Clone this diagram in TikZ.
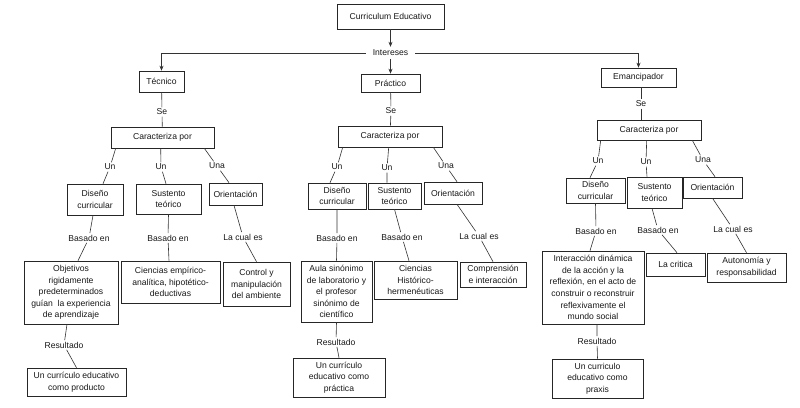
\documentclass[tikz,border=0pt]{standalone}
\usepackage{fontspec}
\setmainfont{Liberation Sans}
\usetikzlibrary{arrows.meta,calc}
\begin{document}
\begin{tikzpicture}[x=1pt,y=-1pt,
  box/.style={draw=black!85, line width=0.6pt, fill=white, align=center, inner sep=1pt,
    font=\fontsize{8.6}{11.6}\selectfont, text=black!90},
  lbl/.style={fill=white, inner sep=1.5pt, font=\fontsize{8.6}{11.6}\selectfont, text=black!90},
  conn/.style={draw=black!80, line width=0.6pt},
  arr/.style={conn, -{Stealth[length=5pt,width=4pt]}}]
\useasboundingbox[fill=white] (0,0) rectangle (800,407);

% top level
\node[box, minimum width=107pt, minimum height=25pt] (ce) at (390.5,16.5) {Curriculum Educativo};
\node[lbl, inner xsep=7pt, inner ysep=3pt] (int) at (390.5,53) {Intereses};
\node[box, minimum width=45pt, minimum height=21pt] (tec) at (161.5,81.5) {Técnico};
\node[box, minimum width=59pt, minimum height=18pt] (pra) at (390.5,83) {Práctico};
\node[box, minimum width=75pt, minimum height=19pt] (ema) at (638.5,77.5) {Emancipador};

\draw[arr] (ce) -- (int);
\draw[arr] (int) -- (pra);
\draw[arr] (int.west) -| (tec.north);
\draw[arr] (int.east) -| (ema.north);

% caracteriza
\node[box, minimum width=103pt, minimum height=21pt] (car1) at (162.5,137.5) {Caracteriza por};
\node[box, minimum width=104pt, minimum height=21pt] (car2) at (390,136.5) {Caracteriza por};
\node[box, minimum width=104pt, minimum height=20pt] (car3) at (649,130) {Caracteriza por};

\node[lbl] (se1) at (162,112) {Se};
\node[lbl] (se2) at (391,111) {Se};
\node[lbl] (se3) at (641,104) {Se};
\draw[conn] (tec) -- (se1) -- (car1);
\draw[conn] (pra) -- (se2) -- (car2);
\draw[conn] ($(ema.south)+(2.5,0)$) -- (se3) -- (se3 |- car3.north);

% ---------- Tecnico branch ----------
\node[box, minimum width=56pt, minimum height=31pt] (d1) at (95,199.5) {Diseño\\curricular};
\node[box, minimum width=65pt, minimum height=30pt] (s1) at (168.5,199) {Sustento\\teórico};
\node[box, minimum width=53pt, minimum height=22pt] (o1) at (235.5,194) {Orientación};
\node[box, minimum width=94pt, minimum height=63pt] (obj) at (71,292.5) {Objetivos\\rigidamente\\predeterminados\\guían\ \ la experiencia\\de aprendizaje};
\node[box, minimum width=99pt, minimum height=42pt] (cie1) at (170.5,282) {Ciencias empírico-\\analítica, hipotético-\\deductivas};
\node[box, minimum width=67pt, minimum height=44pt] (ctl) at (256.5,284) {Control y\\manipulación\\del ambiente};
\node[box, minimum width=99pt, minimum height=28pt] (prod) at (76.5,382) {Un currículo educativo\\como producto};

\node[lbl] (un1) at (110,167) {Un};
\node[lbl] (un2) at (161,167) {Un};
\node[lbl] (una1) at (217,166) {Una};
\node[lbl] (bas1) at (89,238) {Basado en};
\node[lbl] (bas2) at (168,238) {Basado en};
\node[lbl] (lce1) at (243,237) {La cual es};
\node[lbl] (res1) at (64,345) {Resultado};

\draw[conn] ($(car1.south west)+(5,0)$) -- (un1) -- ($(d1.north)+(8,0)$);
\draw[conn] ($(car1.south west)+(50,0)$) -- (un2) -- ($(s1.north)+(-2.5,0)$);
\draw[conn] ($(car1.south east)+(-10,0)$) -- (una1) -- ($(o1.north)+(-6.5,0)$);
\draw[conn] ($(d1.south)+(-2,0)$) -- (bas1) -- ($(obj.north)+(7,0)$);
\draw[conn] (s1.south) -- (bas2) -- ($(cie1.north)+(-1.5,0)$);
\draw[conn] ($(o1.south)+(-1.5,0)$) -- (lce1) -- (ctl.north);
\draw[conn] ($(obj.south)+(-4,0)$) -- (res1) -- (prod.north);

% ---------- Practico branch ----------
\node[box, minimum width=58pt, minimum height=26pt] (d2) at (337,196) {Diseño\\curricular};
\node[box, minimum width=53pt, minimum height=26pt] (s2) at (394.5,196) {Sustento\\teórico};
\node[box, minimum width=58pt, minimum height=22pt] (o2) at (453,193) {Orientación};
\node[box, minimum width=71pt, minimum height=61pt] (aula) at (336.5,291.5) {Aula sinónimo\\de laboratorio y\\el profesor\\sinónimo de\\científico};
\node[box, minimum width=83pt, minimum height=38pt] (cie2) at (415.5,280) {Ciencias\\Histórico-\\hermenéuticas};
\node[box, minimum width=66pt, minimum height=25pt] (comp) at (493,274.5) {Comprensión\\e interacción};
\node[box, minimum width=92pt, minimum height=39pt] (prac) at (339,377.5) {Un currículo\\educativo como\\práctica};

\node[lbl] (un3) at (337,167) {Un};
\node[lbl] (un4) at (387,168) {Un};
\node[lbl] (una2) at (446,166) {Una};
\node[lbl] (bas3) at (337,238) {Basado en};
\node[lbl] (bas4) at (402,237) {Basado en};
\node[lbl] (lce2) at (479,236) {La cual es};
\node[lbl] (res2) at (336,342) {Resultado};

\draw[conn] ($(car2.south west)+(5,0)$) -- (un3) -- ($(d2.north)+(-7,0)$);
\draw[conn] ($(car2.south west)+(51,0)$) -- (un4) -- ($(s2.north)+(-7.5,0)$);
\draw[conn] ($(car2.south east)+(-9,0)$) -- (una2) -- ($(o2.north)+(4,0)$);
\draw[conn] (d2.south) -- (bas3) -- (aula.north);
\draw[conn] (s2.south) -- (bas4) -- ($(cie2.north)+(-6.5,0)$);
\draw[conn] ($(o2.south)+(4,0)$) -- (lce2) -- (comp.north);
\draw[conn] (aula.south) -- (res2) -- (prac.north);

% ---------- Emancipador branch ----------
\node[box, minimum width=59pt, minimum height=25pt] (d3) at (595.5,190.5) {Diseño\\curricular};
\node[box, minimum width=55pt, minimum height=31pt] (s3) at (654.5,192.5) {Sustento\\teórico};
\node[box, minimum width=59pt, minimum height=21pt] (o3) at (712.5,187.5) {Orientación};
\node[box, minimum width=102pt, minimum height=73pt] (intx) at (593,287.5) {Interacción dinámica\\de la acción y la\\reflexión, en el acto de\\construir o reconstruir\\reflexivamente el\\mundo social};
\node[box, minimum width=59pt, minimum height=23pt] (cri) at (675.5,264.5) {La critica};
\node[box, minimum width=79pt, minimum height=29pt] (aut) at (746.5,267.5) {Autonomía y\\responsabilidad};
\node[box, minimum width=91pt, minimum height=39pt] (prax) at (597.5,378.5) {Un curriculo\\educativo como\\praxis};

\node[lbl] (un5) at (598,161) {Un};
\node[lbl] (un6) at (646,162) {Un};
\node[lbl] (una3) at (703,160) {Una};
\node[lbl] (bas5) at (596,231) {Basado en};
\node[lbl] (bas6) at (658,230) {Basado en};
\node[lbl] (lce3) at (733,229) {La cual es};
\node[lbl] (res3) at (597,341) {Resultado};

\draw[conn] ($(car3.south west)+(4,0)$) -- (un5) -- ($(d3.north)+(-5.5,0)$);
\draw[conn] ($(car3.south west)+(50,0)$) -- (un6) -- ($(s3.north)+(-7.5,0)$);
\draw[conn] ($(car3.south east)+(-9,0)$) -- (una3) -- ($(o3.north)+(2.5,0)$);
\draw[conn] (d3.south) -- (bas5) -- ($(intx.north)+(-3,0)$);
\draw[conn] ($(s3.south)+(-2.5,0)$) -- (bas6) -- ($(cri.north)+(1.5,0)$);
\draw[conn] (o3.south) -- (lce3) -- (aut.north);
\draw[conn] ($(intx.south)+(4,0)$) -- (res3) -- (prax.north);
\end{tikzpicture}
\end{document}
